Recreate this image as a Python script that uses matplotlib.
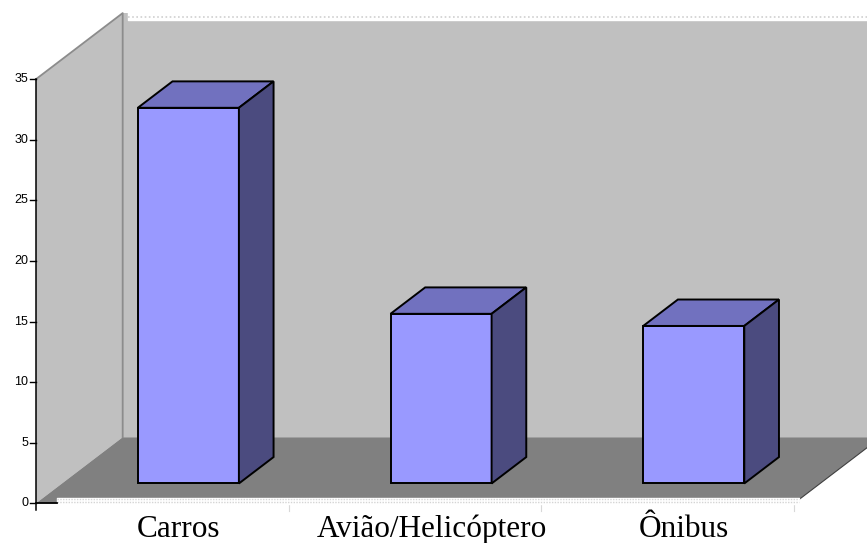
import matplotlib
matplotlib.use("Agg")
import matplotlib.pyplot as plt
from matplotlib.patches import Polygon

# Chart data
categories = ["Carros", "Avião/Helicóptero", "Ônibus"]
values = [31, 14, 13]
y_ticks = [0, 5, 10, 15, 20, 25, 30, 35]
y_max = 35

# Oblique 3D look: depth shifts points right/up (in category / value units)
DEPTH_X = 0.343
DEPTH_Y = 5.45
BAR_W = 0.4
BAR_Z0, BAR_Z1 = 0.3, 0.7

WALL = "#c0c0c0"
FLOOR = "#808080"
FRONT = "#9999ff"
TOP = "#7171bf"
SIDE = "#4b4b7f"


def proj(x, y, z):
    return (x + z * DEPTH_X, y + z * DEPTH_Y)


def face(ax, pts, color, edge="none", lw=0.0, z=1):
    ax.add_patch(Polygon([proj(*p) for p in pts], closed=True, facecolor=color,
                         edgecolor=edge, linewidth=lw, joinstyle="miter", zorder=z))


fig = plt.figure(figsize=(8.67, 5.43), dpi=100)
ax = fig.add_axes([0, 0, 1, 1])
ax.set_xlim(-0.1425, 3.2885)
ax.set_ylim(-3.276, 41.53)
ax.axis("off")

n = len(categories)

# walls and floor
face(ax, [(0, 0, 1), (n, 0, 1), (n, y_max, 1), (0, y_max, 1)], WALL, z=1)
face(ax, [(0, 0, 0), (0, 0, 1), (0, y_max, 1), (0, y_max, 0)], WALL, z=1)
face(ax, [(0, 0, 0), (n, 0, 0), (n, 0, 1), (0, 0, 1)], FLOOR, z=1)

# wall edges
edge_pts = [proj(0, y_max, 0), proj(0, y_max, 1), proj(0, 0, 1)]
ax.plot([p[0] for p in edge_pts], [p[1] for p in edge_pts], color="#8c8c8c", lw=1.3, zorder=2)
fr = [proj(n, 0, 0), proj(n, 0, 1)]
ax.plot([p[0] for p in fr], [p[1] for p in fr], color="#404040", lw=0.8, zorder=2)

# dotted rims along the top of the back wall and the front of the floor
top_y = y_max + DEPTH_Y
ax.fill_between([0.364, 3.3], top_y - 0.55, top_y + 0.05, color="white", zorder=3)
ax.plot([0.364, 3.3], [top_y - 0.3, top_y - 0.3], color="#d0d0d0", lw=1.2,
        linestyle=(0, (1, 1.5)), zorder=4)
ax.fill_between([0.083, 3.02], -0.02, 0.47, color="white", zorder=3)
for yy in (0.12, 0.35):
    ax.plot([0.083, 3.02], [yy, yy], color="#d4d4d4", lw=1.0,
            linestyle=(0, (1, 1)), zorder=4)

# bars
for i, v in enumerate(values):
    x0 = i + (1 - BAR_W) / 2
    x1 = x0 + BAR_W
    face(ax, [(x0, 0, BAR_Z0), (x1, 0, BAR_Z0), (x1, v, BAR_Z0), (x0, v, BAR_Z0)],
         FRONT, "black", 1.4, z=5)
    face(ax, [(x0, v, BAR_Z0), (x1, v, BAR_Z0), (x1, v, BAR_Z1), (x0, v, BAR_Z1)],
         TOP, "black", 1.4, z=5)
    face(ax, [(x1, 0, BAR_Z0), (x1, 0, BAR_Z1), (x1, v, BAR_Z1), (x1, v, BAR_Z0)],
         SIDE, "black", 1.4, z=5)

# value axis
px = 1 / 252.7
ax.plot([0, 0], [-0.55, y_max], color="black", lw=1.1, zorder=6)
ax.plot([0, 21 * px], [0, 0], color="black", lw=1.3, zorder=6)
for t in y_ticks:
    ax.plot([-6 * px, 0], [t, t], color="black", lw=1.0, zorder=6)
    ax.text(-8 * px, t, str(t), ha="right", va="center", fontsize=9,
            family="Liberation Sans", color="black", zorder=6)

# faint category separators below the floor
for k in range(1, n + 1):
    ax.plot([k, k], [-0.05, -0.6], color="#d8d8d8", lw=0.8, zorder=2)

# category labels
for i, name in enumerate(categories):
    lx, _ = proj(i + 0.5, 0, 0.19)
    ax.text(lx, -2.77, name, ha="center", va="baseline", fontsize=22.5,
            family="Liberation Serif", color="black", zorder=6)

fig.savefig("out.png", dpi=100)
